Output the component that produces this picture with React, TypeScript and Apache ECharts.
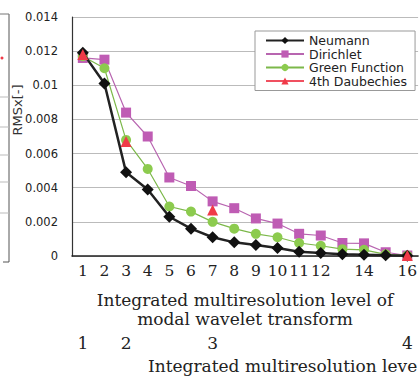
import React, { useEffect, useRef } from "react";
import * as echarts from "echarts";

const levels = ["1","2","3","4","5","6","7","8","9","10","11","12","13","14","15","16"];
const shownTicks = ["1","2","3","4","5","6","7","8","9","10","11","12","14","16"];
const secondLevels: Record<string, string> = { "1": "1", "3": "2", "7": "3", "16": "4" };
const yTicks = [0, 0.002, 0.004, 0.006, 0.008, 0.01, 0.012, 0.014];

const neumann = [0.0119, 0.0101, 0.0049, 0.0039, 0.0023, 0.0016, 0.0011, 0.0008, 0.00065, 0.00047, 0.00025, 0.00018, 0.0001, 0.00007, 0.00004, 0.00002];
const dirichlet = [0.0116, 0.0115, 0.0084, 0.0070, 0.0046, 0.0041, 0.0032, 0.0028, 0.0022, 0.0019, 0.0013, 0.0012, 0.00076, 0.00074, 0.00022, 0.00003];
const green = [0.0117, 0.0110, 0.0068, 0.0051, 0.0029, 0.0026, 0.0020, 0.0016, 0.0013, 0.0011, 0.00076, 0.0006, 0.0004, 0.00036, 0.0001, 0.00003];
const daubechies = [0.0118, null, 0.0067, null, null, null, 0.0027, null, null, null, null, null, null, null, null, 0.00003];

const serif = "DejaVu Serif";
const sans = "DejaVu Sans";

export default function App() {
  const ref = useRef<HTMLDivElement>(null);
  useEffect(() => {
    if (!ref.current) return;
    const chart = echarts.init(ref.current, null, { renderer: "svg" });
    const option: any = {
      animation: false,
      backgroundColor: "#fff",
      grid: { left: 72, top: 17, width: 351, height: 239 },
      legend: {
        orient: "vertical",
        left: 255,
        top: 31,
        padding: [3, 8, 3, 10],
        itemGap: 0.5,
        itemWidth: 38,
        itemHeight: 9,
        backgroundColor: "#fff",
        borderColor: "#999",
        borderWidth: 1,
        textStyle: { fontFamily: sans, fontSize: 12.5, color: "#222", lineHeight: 13 },
        data: ["Neumann", "Dirichlet", "Green Function", "4th Daubechies"],
      },
      xAxis: [
        {
          type: "category",
          data: levels,
          boundaryGap: true,
          axisLine: { lineStyle: { color: "#222", width: 1.5 } },
          axisTick: { inside: true, length: 3, lineStyle: { color: "#777" } },
          axisLabel: {
            interval: 0,
            formatter: (v: string) => (shownTicks.includes(v) ? v : ""),
            fontFamily: serif,
            fontSize: 15.5,
            color: "#222",
            margin: 7,
          },
          name: "Integrated multiresolution level of\nmodal wavelet transform",
          nameLocation: "middle",
          nameGap: 34,
          nameTextStyle: { fontFamily: serif, fontSize: 17, lineHeight: 19, color: "#222" },
        },
        {
          type: "category",
          data: levels,
          position: "bottom",
          offset: 72,
          boundaryGap: true,
          axisLine: { show: false },
          axisTick: { show: false },
          axisLabel: {
            interval: 0,
            formatter: (v: string) => secondLevels[v] || "",
            fontFamily: serif,
            fontSize: 17,
            color: "#222",
            margin: 6,
          },
        },
      ],
      yAxis: {
        type: "value",
        min: yTicks[0],
        max: yTicks[yTicks.length - 1],
        interval: 0.002,
        axisLine: { show: true, lineStyle: { color: "#333", width: 1.2 } },
        axisTick: { show: false },
        splitLine: { lineStyle: { color: "#bbb", width: 1 } },
        axisLabel: {
          formatter: (v: number) => (v === 0 ? "0" : String(Number(v.toFixed(3)))),
          fontFamily: sans,
          fontSize: 11.5,
          color: "#222",
          margin: 14,
        },
      },
      series: [
        {
          name: "Neumann",
          type: "line",
          data: neumann,
          z: 4,
          symbol: "diamond",
          symbolSize: 12,
          itemStyle: { color: "#111" },
          lineStyle: { color: "#222", width: 2.5 },
        },
        {
          name: "Dirichlet",
          type: "line",
          data: dirichlet,
          z: 2,
          symbol: "rect",
          symbolSize: 10,
          itemStyle: { color: "#bf5cb4" },
          lineStyle: { color: "#b865b0", width: 1.2 },
        },
        {
          name: "Green Function",
          type: "line",
          data: green,
          z: 3,
          symbol: "circle",
          symbolSize: 10,
          itemStyle: { color: "#8ccb4e" },
          lineStyle: { color: "#7cb84a", width: 1.2 },
        },
        {
          name: "4th Daubechies",
          type: "line",
          data: daubechies,
          connectNulls: false,
          z: 5,
          symbol: "triangle",
          symbolSize: 11,
          itemStyle: { color: "#f03a48" },
          lineStyle: { color: "#f05060", width: 1 },
        },
      ],
      graphic: [
        {
          type: "text",
          x: 17,
          y: 110,
          rotation: Math.PI / 2,
          style: {
            text: "RMSx[-]",
            fontFamily: sans,
            fontSize: 13,
            fill: "#333",
            align: "center",
            verticalAlign: "middle",
          },
        },
        {
          type: "text",
          left: 148,
          top: 357,
          style: {
            text: "Integrated multiresolution leve",
            fontFamily: serif,
            fontSize: 17,
            fill: "#222",
          },
        },
        { type: "line", shape: { x1: 9, y1: 14, x2: 9, y2: 262 }, style: { stroke: "#555", lineWidth: 1 } },
        { type: "line", shape: { x1: 0, y1: 14, x2: 9, y2: 14 }, style: { stroke: "#777", lineWidth: 1 } },
        { type: "line", shape: { x1: 0, y1: 97, x2: 9, y2: 97 }, style: { stroke: "#bbb", lineWidth: 1 } },
        { type: "line", shape: { x1: 0, y1: 127, x2: 9, y2: 127 }, style: { stroke: "#bbb", lineWidth: 1 } },
        { type: "line", shape: { x1: 0, y1: 155, x2: 9, y2: 155 }, style: { stroke: "#bbb", lineWidth: 1 } },
        { type: "line", shape: { x1: 0, y1: 182, x2: 9, y2: 182 }, style: { stroke: "#bbb", lineWidth: 1 } },
        { type: "line", shape: { x1: 0, y1: 213, x2: 9, y2: 213 }, style: { stroke: "#bbb", lineWidth: 1 } },
        { type: "line", shape: { x1: 3, y1: 262, x2: 9, y2: 262 }, style: { stroke: "#555", lineWidth: 1 } },
        { type: "circle", shape: { cx: 2, cy: 58, r: 1.5 }, style: { fill: "#f03a48" } },
      ],
    };
    chart.setOption(option);
    return () => chart.dispose();
  }, []);
  return (
    <div
      ref={ref}
      style={{ position: "fixed", left: 0, top: 0, width: 420, height: 376, overflow: "hidden", background: "#fff" }}
    />
  );
}
